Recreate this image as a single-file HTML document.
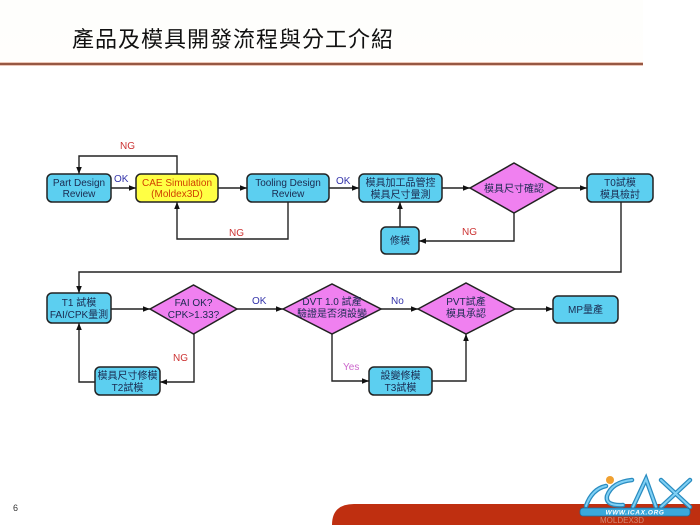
<!DOCTYPE html>
<html>
<head>
<meta charset="utf-8">
<style>
html,body{margin:0;padding:0;background:#fff;}
body{width:700px;height:525px;overflow:hidden;position:relative;}
svg{display:block;}
.t{font-family:"Liberation Sans","Noto Sans CJK TC",sans-serif;}
</style>
</head>
<body>
<svg width="700" height="525" viewBox="0 0 700 525" xmlns="http://www.w3.org/2000/svg">
<defs>
<marker id="a" viewBox="0 0 10 10" refX="10" refY="5" markerWidth="7" markerHeight="7" markerUnits="userSpaceOnUse" orient="auto">
<path d="M0,1 L10,5 L0,9 z" fill="#111"/>
</marker>
<linearGradient id="hl" x1="0" y1="0" x2="0" y2="1">
<stop offset="0" stop-color="#f0a080"/>
<stop offset="0.5" stop-color="#6a3426"/>
<stop offset="1" stop-color="#f0a080"/>
</linearGradient>
<linearGradient id="bg" x1="0" y1="0" x2="0" y2="1">
<stop offset="0" stop-color="#fefefc"/>
<stop offset="1" stop-color="#fffefc"/>
</linearGradient>
</defs>

<!-- header -->
<rect x="0" y="0" width="643" height="63" fill="url(#bg)"/>
<text class="t" x="72" y="47" font-size="22" letter-spacing="1" fill="#111">產品及模具開發流程與分工介紹</text>
<rect x="0" y="62.5" width="643" height="3" fill="url(#hl)"/>

<!-- connectors -->
<g stroke="#222" stroke-width="1.4" fill="none">
<line x1="111" y1="188" x2="136" y2="188" marker-end="url(#a)"/>
<line x1="218" y1="188" x2="247" y2="188" marker-end="url(#a)"/>
<line x1="329" y1="188" x2="359" y2="188" marker-end="url(#a)"/>
<line x1="442" y1="188" x2="470" y2="188" marker-end="url(#a)"/>
<line x1="558" y1="188" x2="587" y2="188" marker-end="url(#a)"/>
<polyline points="177,174 177,156 79,156 79,174" marker-end="url(#a)"/>
<polyline points="288,202 288,239 177,239 177,202" marker-end="url(#a)"/>
<polyline points="514,213 514,241 419,241" marker-end="url(#a)"/>
<line x1="400" y1="227" x2="400" y2="202" marker-end="url(#a)"/>
<polyline points="621,202 621,272 79,272 79,293" marker-end="url(#a)"/>

<line x1="111" y1="309" x2="150" y2="309" marker-end="url(#a)"/>
<line x1="237" y1="309" x2="283" y2="309" marker-end="url(#a)"/>
<line x1="381" y1="309" x2="418" y2="309" marker-end="url(#a)"/>
<line x1="515" y1="309" x2="553" y2="309" marker-end="url(#a)"/>
<polyline points="194,334 194,382 160,382" marker-end="url(#a)"/>
<polyline points="95,382 79,382 79,323" marker-end="url(#a)"/>
<polyline points="332,334 332,381 369,381" marker-end="url(#a)"/>
<polyline points="432,381 466,381 466,334" marker-end="url(#a)"/>
</g>

<!-- boxes -->
<g stroke="#222" stroke-width="1.5">
<rect x="47" y="174" width="64" height="28" rx="5" fill="#5ccff0"/>
<rect x="136" y="174" width="82" height="28" rx="5" fill="#ffff44"/>
<rect x="247" y="174" width="82" height="28" rx="5" fill="#5ccff0"/>
<rect x="359" y="174" width="83" height="28" rx="5" fill="#5ccff0"/>
<rect x="587" y="174" width="66" height="28" rx="5" fill="#5ccff0"/>
<rect x="381" y="227" width="38" height="27" rx="5" fill="#5ccff0"/>
<rect x="47" y="293" width="64" height="30" rx="5" fill="#5ccff0"/>
<rect x="95" y="367" width="65" height="28" rx="5" fill="#5ccff0"/>
<rect x="369" y="367" width="63" height="28" rx="5" fill="#5ccff0"/>
<rect x="553" y="296" width="65" height="27" rx="5" fill="#5ccff0"/>
<polygon points="470,188 514,163 558,188 514,213" fill="#f080f0"/>
<polygon points="150,309 193.5,285 237,309 193.5,334" fill="#f080f0"/>
<polygon points="283,309 332,284 381,309 332,334" fill="#f080f0"/>
<polygon points="418,309 466,283 515,309 466,334" fill="#f080f0"/>
</g>

<!-- box text -->
<g class="t" font-size="10" fill="#1a2a50" text-anchor="middle">
<text x="79" y="186">Part Design</text>
<text x="79" y="197">Review</text>
<text x="177" y="186" fill="#d04000">CAE Simulation</text>
<text x="177" y="197" fill="#d04000">(Moldex3D)</text>
<text x="288" y="186">Tooling Design</text>
<text x="288" y="197">Review</text>
<text x="400.5" y="186">模具加工品管控</text>
<text x="400.5" y="198">模具尺寸量測</text>
<text x="514" y="192">模具尺寸確認</text>
<text x="620" y="186">T0試模</text>
<text x="620" y="198">模具檢討</text>
<text x="400" y="244">修模</text>
<text x="79" y="306">T1 試模</text>
<text x="79" y="318">FAI/CPK量測</text>
<text x="193.5" y="306">FAI OK?</text>
<text x="193.5" y="318">CPK&gt;1.33?</text>
<text x="332" y="305">DVT 1.0 試產</text>
<text x="332" y="317">驗證是否須設變</text>
<text x="466" y="305">PVT試產</text>
<text x="466" y="317">模具承認</text>
<text x="585.5" y="313">MP量產</text>
<text x="127.5" y="379">模具尺寸修模</text>
<text x="127.5" y="391">T2試模</text>
<text x="400.5" y="379">設變修模</text>
<text x="400.5" y="391">T3試模</text>
</g>

<!-- connector labels -->
<g class="t" font-size="10">
<text x="120" y="149" fill="#cc3333">NG</text>
<text x="114" y="182" fill="#3333aa">OK</text>
<text x="336" y="184" fill="#3333aa">OK</text>
<text x="229" y="236" fill="#cc3333">NG</text>
<text x="462" y="235" fill="#cc3333">NG</text>
<text x="252" y="304" fill="#3333aa">OK</text>
<text x="391" y="304" fill="#3333aa">No</text>
<text x="173" y="361" fill="#cc3333">NG</text>
<text x="343" y="370" fill="#cc66cc">Yes</text>
</g>

<!-- footer -->
<text class="t" x="13" y="511" font-size="9" fill="#333">6</text>
<path d="M332,525 Q332,504 354,504 L700,504 L700,525 Z" fill="#bf2f10"/>
<text class="t" x="600" y="523" font-size="8" fill="#d8a090" opacity="0.8">MOLDEX3D</text>
<!-- ICAX logo -->
<g fill="none" stroke="#2a8cc0" stroke-width="4.5" stroke-linecap="round">
<path d="M586,506 Q592,489 606,486"/>
<path d="M632,480 Q612,482 607,496 Q605,506 623,505"/>
<path d="M633,507 L646,479 L656,507"/>
<path d="M661,480 L690,507 M690,480 L661,507"/>
</g>
<g fill="none" stroke="#7fd0f5" stroke-width="2" stroke-linecap="round">
<path d="M586,506 Q592,489 606,486"/>
<path d="M632,480 Q612,482 607,496 Q605,506 623,505"/>
<path d="M633,507 L646,479 L656,507"/>
<path d="M661,480 L690,507 M690,480 L661,507"/>
</g>
<circle cx="610" cy="480" r="4" fill="#f0a030"/>
<rect x="580" y="508" width="110" height="8" rx="3" fill="#3aa8dc" stroke="#1a6fa0" stroke-width="0.8"/>
<text x="635" y="514.5" font-family="Liberation Sans, sans-serif" font-size="6.5" font-weight="bold" font-style="italic" fill="#ffffff" text-anchor="middle" letter-spacing="0.6">WWW.ICAX.ORG</text>
</svg>
</body>
</html>
